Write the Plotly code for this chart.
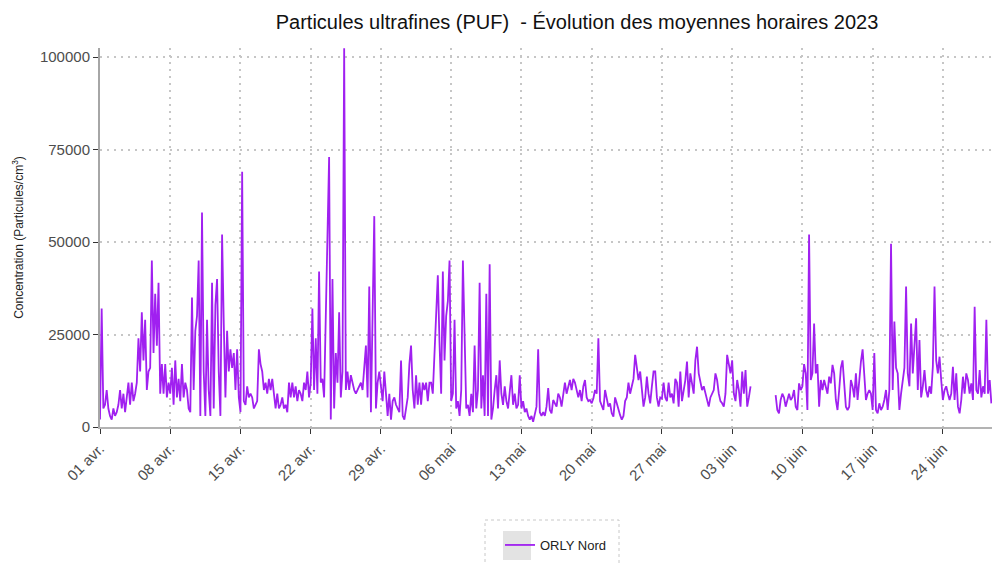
import pandas as pd
import plotly.graph_objects as go

# Hourly PUF concentrations (particles/cm3), sampled every 4 hours as read from the chart
# (6 values per day: 00h, 04h, 08h, 12h, 16h, 20h)
april_values = [
    2000, 32000, 5000, 6000, 10000, 5000,
    3000, 2000, 5000, 3000, 4000, 6000,
    10000, 5000, 9000, 4000, 8000, 12000,
    6000, 12000, 7000, 9000, 12000, 24000,
    15000, 31000, 18000, 29000, 10000, 15000,
    16000, 45000, 20000, 36000, 22000, 39000,
    9000, 17000, 9000, 17000, 8000, 12000,
    9000, 16000, 6000, 18000, 8000, 13000,
    7000, 17000, 8000, 12000, 10000, 5000,
    4000, 35000, 10000, 26000, 30000, 45000,
    3000, 58000, 15000, 3000, 29000, 10000,
    3000, 39000, 5000, 33000, 40000, 15000,
    3000, 52000, 28000, 8000, 26000, 15000,
    21000, 16000, 20000, 10000, 21000, 8000,
    4000, 69000, 7000, 6000, 11000, 8000,
    9000, 8000, 5000, 6000, 7000, 21000,
    17000, 15000, 10000, 12000, 9000, 13000,
    10000, 13000, 8000, 5000, 9000, 5000,
    6000, 8000, 5000, 6000, 4000, 12000,
    8000, 12000, 8000, 11000, 7000, 10000,
    9000, 7000, 12000, 10000, 15000, 8000,
    12000, 32000, 10000, 24000, 9000, 42000,
    12000, 13000, 8000, 30000, 43000, 73000,
    2000, 40000, 5000, 20000, 12000, 31000,
    8000, 15000, 102400, 10000, 15000, 10000,
    14000, 12000, 10000, 9000, 10000, 11000,
    12000, 10000, 15000, 22000, 8000, 38000,
    4000, 38000, 57000, 5000, 12000, 15000,
    10000, 7000, 15000, 10000, 3000, 9000,
    2000, 7000, 8000, 6000, 5000, 4000,
]
may_values = [
    18000, 3000, 2000, 5000, 8000, 17000,
    22000, 10000, 5000, 14000, 6000, 12000,
    6000, 12000, 10000, 12000, 7000, 12000,
    12000, 9000, 20000, 31000, 41000, 23000,
    9000, 42000, 18000, 30000, 34000, 45000,
    7000, 9000, 29000, 5000, 7000, 3000,
    10000, 45000, 23000, 5000, 6000, 3000,
    9000, 4000, 22000, 5000, 10000, 39000,
    5000, 14000, 3000, 36000, 3000, 44000,
    2000, 5000, 10000, 14000, 5000, 18000,
    9000, 6000, 11000, 7000, 5000, 10000,
    14000, 6000, 9000, 5000, 6000, 14000,
    5000, 7000, 4000, 5000, 3000, 2000,
    3000, 1400, 4000, 5500, 21000, 4000,
    3000, 4000, 3000, 5500, 10500, 4600,
    3700, 7300, 6400, 5500, 9000, 8000,
    5500, 9000, 12000, 9000, 11000, 12700,
    10000, 13000, 12000, 10000, 8000, 10000,
    7000, 11000, 12700, 8000, 7000, 7300,
    6400, 7700, 10000, 9000, 24000, 7000,
    5500, 4600, 10000, 7300, 5500, 6400,
    3700, 2800, 8000, 6400, 4600, 3200,
    2000, 3000, 7000, 8000, 12000, 9000,
    11000, 13000, 19500, 16000, 12700, 15000,
    10000, 5500, 8000, 13600, 9000, 6400,
    11000, 15000, 15000, 8000, 5500, 8000,
    7700, 12000, 8000, 7000, 12000, 8000,
    9000, 6400, 13000, 12000, 5500, 15000,
    7000, 10000, 12700, 17700, 8000, 14500,
    11000, 9000, 18000, 21700, 14500, 12000,
    10000, 11000, 9000, 7000, 5500, 8000,
]
june_values = [
    9000, 10000, 14500, 12700, 9000, 7000,
    6400, 5500, 9000, 19500, 17000, 14500,
    18000, 9000, 7000, 12700, 10000, 5500,
    15000, 9000, 15400, 5500, 8000, 11000,
    None, None, None, None, None, None,
    None, None, None, None, None, None,
    None, None, 8600, 4600, 3700, 7300,
    9000, 8000, 5500, 7300, 9000, 7300,
    8000, 10000, 5500, 4600, 11800, 10000,
    11000, 17000, 14500, 4600, 52000, 12700,
    14500, 28000, 14500, 17000, 5500, 12700,
    10000, 12700, 11000, 9000, 13600, 11800,
    16800, 14500, 7300, 4600, 10000, 16000,
    18000, 11000, 5500, 4600, 5500, 12700,
    11000, 8000, 14500, 7300, 13000, 17700,
    21000, 12700, 7300, 9000, 10000, 9000,
    4600, 20000, 4600, 3700, 6400, 4600,
    5500, 7300, 10000, 4600, 10000, 49500,
    10000, 28500, 16000, 14500, 4600, 9000,
    12000, 16000, 38000, 14500, 11000, 28000,
    14500, 23500, 29400, 10000, 23500, 8000,
    11000, 15400, 10000, 8000, 11000, 9000,
    16300, 38000, 18000, 14500, 19000, 12700,
    7300, 10000, 11000, 9000, 7300, 9000,
    16300, 7300, 14500, 5500, 3700, 7300,
    13600, 9000, 14500, 12700, 9000, 11800,
    7300, 32500, 10000, 9000, 15400, 8000,
    11000, 9000, 29000, 9000, 12700, 6400,
]

concentration = april_values + may_values + june_values
times = pd.date_range("2023-04-01 00:00", periods=len(concentration), freq="4h")

tick_dates = ["2023-04-01", "2023-04-08", "2023-04-15", "2023-04-22", "2023-04-29",
              "2023-05-06", "2023-05-13", "2023-05-20", "2023-05-27", "2023-06-03",
              "2023-06-10", "2023-06-17", "2023-06-24"]
tick_labels = ["01 avr.", "08 avr.", "15 avr.", "22 avr.", "29 avr.",
               "06 mai", "13 mai", "20 mai", "27 mai", "03 juin",
               "10 juin", "17 juin", "24 juin"]
y_ticks = [0, 25000, 50000, 75000, 100000]

series_name = "ORLY Nord"
line_color = "#A020F0"
font_family = "Liberation Sans, Arial, sans-serif"

fig = go.Figure()
fig.add_trace(go.Scatter(
    x=times, y=concentration, mode="lines", name=series_name,
    line=dict(color=line_color, width=1.8), connectgaps=False,
    showlegend=True,
))

# plot area: x 100..992 px, y 48..427 px
W, L, T, B = 992, 100, 48, 427
pw, ph = W - L, B - T
def px(x):
    return (x - L) / pw
def py(y):
    return (B - y) / ph

grid_kw = dict(showgrid=True, gridcolor="#c6c6c6", griddash="2px,5px", gridwidth=1.5)

fig.update_layout(
    width=992, height=565,
    margin=dict(l=L, r=0, t=T, b=565 - B, autoexpand=False),
    paper_bgcolor="white", plot_bgcolor="white",
    font=dict(family=font_family, color="#4d4d4d"),
    title=dict(
        text="Particules ultrafines (PUF)  - Évolution des moyennes horaires 2023",
        font=dict(size=20, color="#111111", family=font_family),
        x=577 / 992, xanchor="center", xref="container",
        y=1 - 22 / 565, yanchor="middle", yref="container",
    ),
    xaxis=dict(
        type="date", automargin=False,
        range=["2023-04-01 00:00", "2023-06-28 21:30"],
        tickvals=tick_dates, ticktext=tick_labels, tickangle=-45,
        tickfont=dict(size=15, color="#4d4d4d"),
        showline=True, linecolor="#b3b3b3", linewidth=2,
        ticks="outside", ticklen=5, tickcolor="#333333", tickwidth=1,
        zeroline=False, **grid_kw,
    ),
    yaxis=dict(
        range=[0, 102450], automargin=False,
        tickvals=y_ticks, tickformat="d",
        tickfont=dict(size=15, color="#4d4d4d"),
        showline=True, linecolor="#a6a6a6", linewidth=2,
        ticks="outside", ticklen=5, tickcolor="#333333", tickwidth=1,
        zeroline=False, **grid_kw,
        title=dict(text="Concentration (Particules/cm<sup>3</sup>)",
                   font=dict(size=12, color="#222222"), standoff=14),
    ),
    showlegend=True,
    legend=dict(
        x=px(500), xanchor="left", y=py(545), yanchor="middle",
        bgcolor="rgba(0,0,0,0)", borderwidth=0,
        font=dict(size=13, color="#222222", family=font_family),
    ),
    shapes=[
        dict(type="rect", xref="paper", yref="paper",
             x0=px(485), x1=px(619), y0=py(520), y1=py(575),
             line=dict(color="#c8c8c8", width=1, dash="dot"), fillcolor="rgba(0,0,0,0)"),
        dict(type="rect", xref="paper", yref="paper",
             x0=px(503), x1=px(531), y0=py(531), y1=py(560),
             line=dict(width=0), fillcolor="#e3e3e3"),
    ],
)

fig.write_html(
    "out.html",
    config={"displayModeBar": False},
    post_script="document.body.style.margin='0';document.body.style.overflow='hidden';",
)
